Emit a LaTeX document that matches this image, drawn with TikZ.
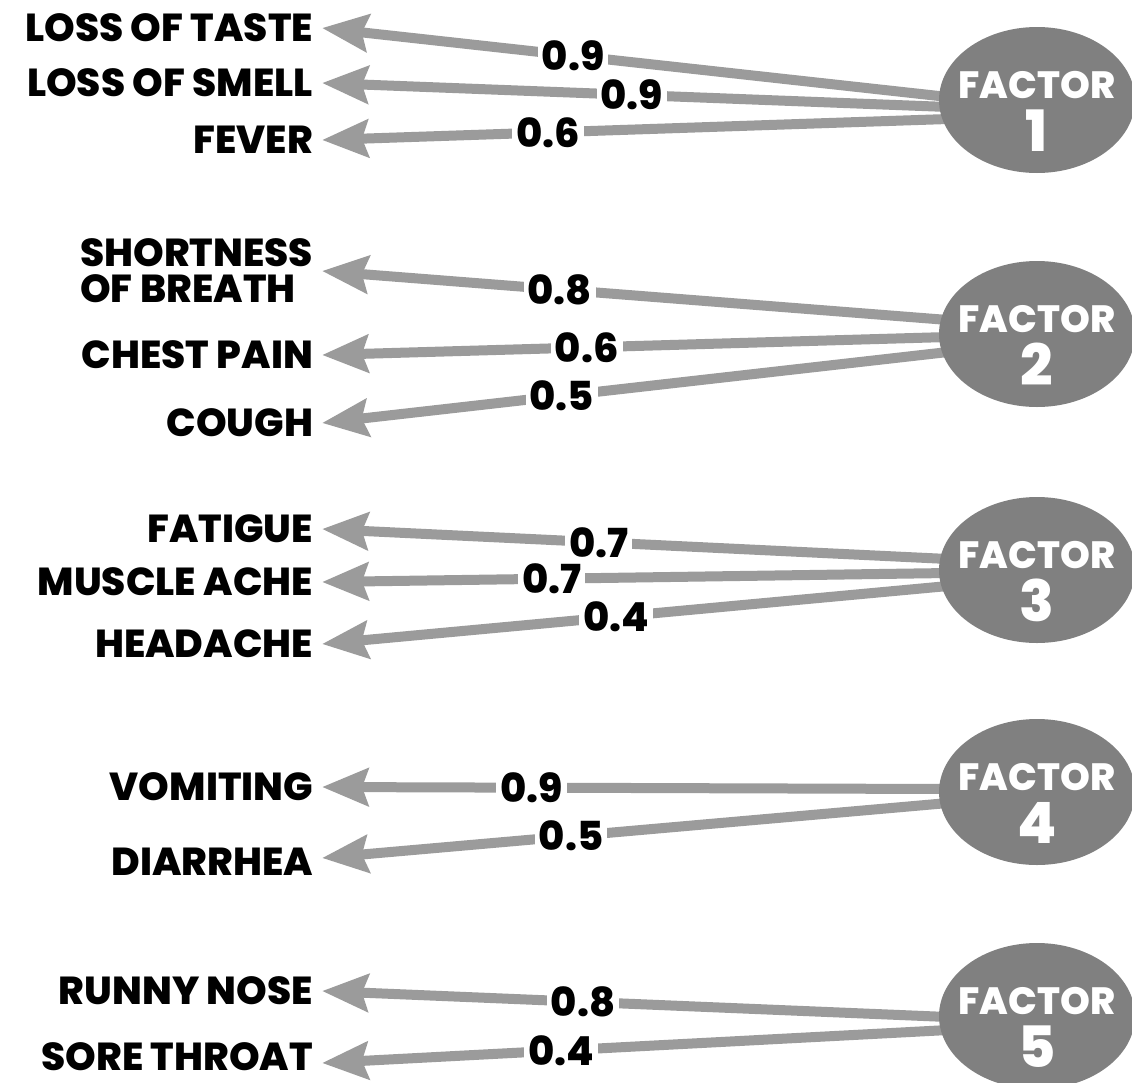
\documentclass[tikz,border=0pt]{standalone}
\usepackage{fontspec}
\setmainfont{Poppins}[BoldFont={* ExtraBold}]
\usetikzlibrary{arrows.meta,backgrounds,shapes.geometric}
\definecolor{linegray}{RGB}{155,155,155}
\definecolor{ellgray}{RGB}{128,128,128}
\begin{document}
\begin{tikzpicture}[x=1pt,y=-1pt,
  sym/.style={anchor=east,inner sep=0pt,outer sep=9pt,font=\fontsize{39}{36}\selectfont\bfseries,text=black},
  conn/.style={draw=linegray,line width=10pt,-{Stealth[length=46pt,width=37pt,inset=6pt]}},
  val/.style={fill=white,inner sep=4pt,font=\fontsize{40}{40}\selectfont\bfseries,text=black},
  fac/.style={ellipse,fill=ellgray,minimum width=196pt,minimum height=146pt,inner sep=0pt},
  factxt/.style={text=white,inner sep=0pt,anchor=base,font=\fontsize{38}{38}\selectfont\bfseries},
  facnum/.style={text=white,inner sep=0pt,anchor=base,font=\fontsize{57}{57}\selectfont\bfseries},
]
\useasboundingbox (0,0) rectangle (1132,1082);

% factor ellipses
\foreach \i/\y in {1/100,2/334,3/570,4/792,5/1016}{
  \node[fac] (f\i) at (1037,\y) {};
  \node[factxt] (f\i l) at ([yshift=2pt]f\i.center) {FACTOR};
  \node[facnum] (f\i n) at ([yshift=-51pt]f\i.center) {\i};
}

% symptoms
\node[sym] (taste) at (322,28) {LOSS OF TASTE};
\node[sym] (smell) at (322,83) {LOSS OF SMELL};
\node[sym] (fever) at (322,140) {FEVER};
\node[sym,align=left] (sob) at (322,271) {SHORTNESS\\OF BREATH};
\node[sym] (chest) at (322,355) {CHEST PAIN};
\node[sym] (cough) at (322,423) {COUGH};
\node[sym] (fat) at (322,529) {FATIGUE};
\node[sym] (mus) at (322,582) {MUSCLE ACHE};
\node[sym] (head) at (322,644) {HEADACHE};
\node[sym] (vom) at (322,787) {VOMITING};
\node[sym] (dia) at (322,862) {DIARRHEA};
\node[sym] (runny) at (322,991) {RUNNY NOSE};
\node[sym] (sore) at (322,1057) {SORE THROAT};

% connector start points (under the ellipses)
\coordinate (e1a) at (948,97);
\coordinate (e1b) at (948,107);
\coordinate (e1c) at (948,119);
\coordinate (e2a) at (948,320);
\coordinate (e2b) at (948,337);
\coordinate (e2c) at (948,352);
\coordinate (e3a) at (948,559);
\coordinate (e3b) at (948,573);
\coordinate (e3c) at (948,586);
\coordinate (e4a) at (948,789);
\coordinate (e4b) at (948,803);
\coordinate (e5a) at (948,1017);
\coordinate (e5b) at (948,1030);

\begin{scope}[on background layer]
\draw[conn] (e1a) -- node[val,pos=0.599] (v1a) {0.9} (taste.east);
\draw[conn] (e1b) -- node[val,pos=0.505] (v1b) {0.9} (smell.east);
\draw[conn] (e1c) -- node[val,pos=0.639] (v1c) {0.6} (fever.east);
\draw[conn] (e2a) -- node[val,pos=0.62] (v2a) {0.8} (sob.east);
\draw[conn] (e2b) -- node[val,pos=0.577] (v2b) {0.6} (chest.east);
\draw[conn] (e2c) -- node[val,pos=0.617] (v2c) {0.5} (cough.east);
\draw[conn] (e3a) -- node[val,pos=0.558] (v3a) {0.7} (fat.east);
\draw[conn] (e3b) -- node[val,pos=0.633] (v3b) {0.7} (mus.east);
\draw[conn] (e3c) -- node[val,pos=0.53] (v3c) {0.4} (head.east);
\draw[conn] (e4a) -- node[val,pos=0.665] (v4a) {0.9} (vom.east);
\draw[conn] (e4b) -- node[val,pos=0.602] (v4b) {0.5} ([yshift=4pt]dia.east);
\draw[conn] (e5a) -- node[val,pos=0.583] (v5a) {0.8} (runny.east);
\draw[conn] (e5b) -- node[val,pos=0.618] (v5b) {0.4} ([yshift=-6pt]sore.east);
\end{scope}
\end{tikzpicture}
\end{document}
